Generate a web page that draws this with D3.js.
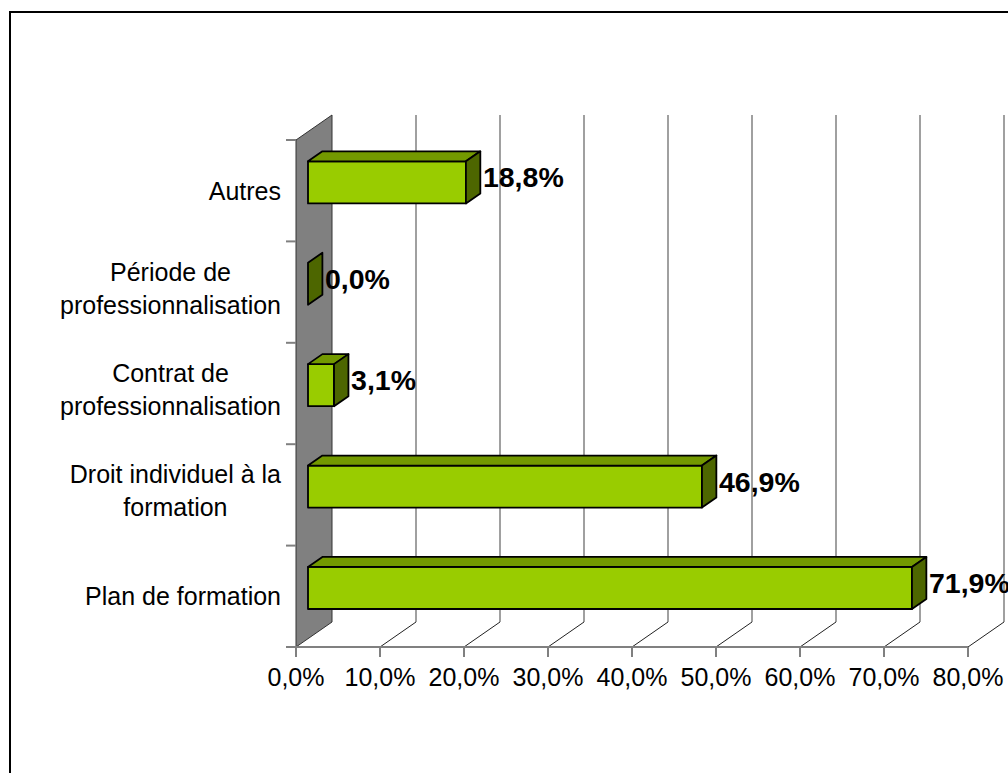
<!DOCTYPE html>
<html>
<head>
<meta charset="utf-8">
<script src="https://cdn.jsdelivr.net/npm/d3@7"></script>
<style>
  body { margin: 0; background: #fff; }
  svg { display: block; font-family: Arial, "Liberation Sans", sans-serif; }
</style>
</head>
<body>
<svg id="chart" width="1008" height="773"></svg>
<script>
// categories, top to bottom as drawn
var categories = ["Autres", "Période de professionnalisation", "Contrat de professionnalisation",
                  "Droit individuel à la formation", "Plan de formation"];
var categoryLines = [["Autres"], ["Période de", "professionnalisation"], ["Contrat de", "professionnalisation"],
                     ["Droit individuel à la", "formation"], ["Plan de formation"]];
var values = [18.8, 0.0, 3.1, 46.9, 71.9];
var tickValues = [0, 10, 20, 30, 40, 50, 60, 70, 80];

var svg = d3.select("#chart");

// plot box (front plane) and 3D depth
var plotLeft = 296, plotRight = 968, plotTop = 140, plotBottom = 647;
var depth = [36, -25];        // full wall depth
var barOffset = 1 / 3;        // bar front face sits this far back
var barDepth = 0.4;           // bar thickness as share of the depth

var x = d3.scaleLinear().domain([0, 80]).range([plotLeft, plotRight]);
var y = d3.scaleBand().domain(categories).range([plotTop, plotBottom]).paddingInner(0).paddingOuter(0);

function fmt(v, dec) {
    return d3.format("." + dec + "f")(v).replace(".", ",") + "%";
}

// outer frame
svg.append("rect")
    .attr("x", 10).attr("y", 12)
    .attr("width", 1010).attr("height", 780)
    .attr("fill", "none").attr("stroke", "#000").attr("stroke-width", 2);

// left wall
svg.append("path")
    .attr("d", d3.line()([
        [plotLeft, plotTop], [plotLeft + depth[0], plotTop + depth[1]],
        [plotLeft + depth[0], plotBottom + depth[1]], [plotLeft, plotBottom]
    ]) + "Z")
    .attr("fill", "#808080")
    .attr("stroke", "#333").attr("stroke-width", 1);

// back wall gridlines
svg.append("g").selectAll("line")
    .data(tickValues.slice(1))
    .enter().append("line")
    .attr("x1", function (d) { return x(d) + depth[0]; })
    .attr("x2", function (d) { return x(d) + depth[0]; })
    .attr("y1", plotTop + depth[1])
    .attr("y2", plotBottom + depth[1])
    .attr("stroke", "#808080").attr("stroke-width", 1.5);

// floor diagonals
svg.append("g").selectAll("line")
    .data(tickValues.slice(1))
    .enter().append("line")
    .attr("x1", function (d) { return x(d); })
    .attr("y1", plotBottom)
    .attr("x2", function (d) { return x(d) + depth[0]; })
    .attr("y2", plotBottom + depth[1])
    .attr("stroke", "#222").attr("stroke-width", 1);

// floor front edge + ticks
svg.append("line")
    .attr("x1", plotLeft).attr("x2", plotRight)
    .attr("y1", plotBottom).attr("y2", plotBottom)
    .attr("stroke", "#808080").attr("stroke-width", 2);

svg.append("g").selectAll("line")
    .data(tickValues)
    .enter().append("line")
    .attr("x1", function (d) { return x(d); })
    .attr("x2", function (d) { return x(d); })
    .attr("y1", plotBottom).attr("y2", plotBottom + 10)
    .attr("stroke", "#808080").attr("stroke-width", 2);

svg.append("g").selectAll("text")
    .data(tickValues)
    .enter().append("text")
    .attr("x", function (d) { return x(d); })
    .attr("y", plotBottom + 39)
    .attr("text-anchor", "middle")
    .style("font-size", "25px")
    .text(function (d) { return fmt(d, 1); });

// category ticks on the wall edge
var catTicks = [plotTop].concat(categories.map(function (c) { return y(c) + y.bandwidth(); }));
svg.append("g").selectAll("line")
    .data(catTicks)
    .enter().append("line")
    .attr("x1", plotLeft - 10).attr("x2", plotLeft)
    .attr("y1", function (d) { return d; })
    .attr("y2", function (d) { return d; })
    .attr("stroke", "#808080").attr("stroke-width", 2);

// bars
var dx0 = depth[0] * barOffset, dy0 = depth[1] * barOffset;
var ddx = depth[0] * barDepth, ddy = depth[1] * barDepth;
var barH = y.bandwidth() * 0.415;

var bars = svg.append("g").selectAll("g")
    .data(categories)
    .enter().append("g");

bars.each(function (c, i) {
    var g = d3.select(this);
    var x0 = x(0) + dx0, x1 = x(values[i]) + dx0;
    var cy = y(c) + y.bandwidth() / 2 + dy0;
    var y0 = cy - barH / 2, y1 = cy + barH / 2;

    if (x1 - x0 > 0.5) {
        g.append("path")
            .attr("d", d3.line()([[x0, y0], [x1, y0], [x1, y1], [x0, y1]]) + "Z")
            .attr("fill", "#99CC00").attr("stroke", "#000").attr("stroke-width", 1.8)
            .attr("stroke-linejoin", "round");
        g.append("path")
            .attr("d", d3.line()([[x0, y0], [x0 + ddx, y0 + ddy], [x1 + ddx, y0 + ddy], [x1, y0]]) + "Z")
            .attr("fill", "#739900").attr("stroke", "#000").attr("stroke-width", 1.8)
            .attr("stroke-linejoin", "round");
    }
    g.append("path")
        .attr("d", d3.line()([[x1, y0], [x1 + ddx, y0 + ddy], [x1 + ddx, y1 + ddy], [x1, y1]]) + "Z")
        .attr("fill", "#4D6600").attr("stroke", "#000").attr("stroke-width", 1.8)
        .attr("stroke-linejoin", "round");

    g.append("text")
        .attr("x", x1 + 17)
        .attr("y", cy + 5)
        .style("font-size", "28.5px")
        .style("font-weight", "bold")
        .text(fmt(values[i], 1));
});

// category labels: centered block, right edge 15px from the wall
var labels = svg.append("g").selectAll("text")
    .data(categories)
    .enter().append("text")
    .style("font-size", "25px")
    .attr("text-anchor", "middle");

labels.each(function (c, i) {
    var t = d3.select(this);
    var lines = categoryLines[i];
    var n = lines.length;
    var cy = y(c) + y.bandwidth() / 2;
    lines.forEach(function (l, j) {
        t.append("tspan")
            .attr("y", cy + 9 - 4 * (n - 1) + (j - (n - 1) / 2) * 33)
            .text(l);
    });
    var w = 0;
    t.selectAll("tspan").each(function () { w = Math.max(w, this.getComputedTextLength()); });
    t.selectAll("tspan").attr("x", plotLeft - 15 - w / 2);
});
</script>
</body>
</html>
